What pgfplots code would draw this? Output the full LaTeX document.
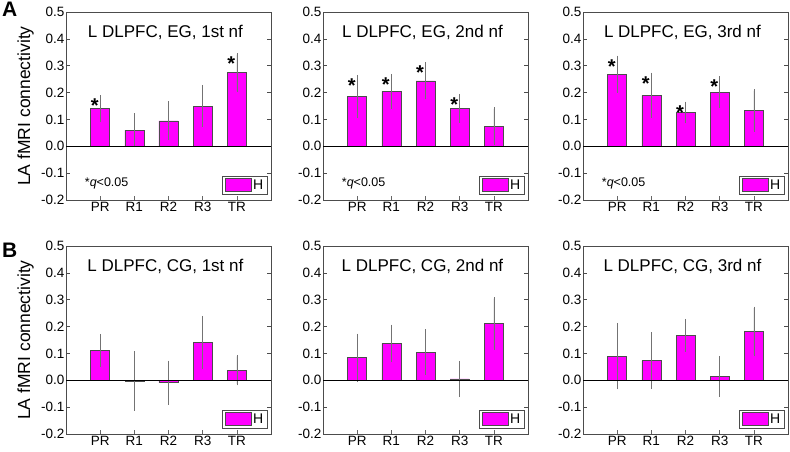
\documentclass[border=0pt]{standalone}
\usepackage{fontspec}
\setmainfont{Liberation Sans}
\usepackage{pgfplots}
\pgfplotsset{compat=1.18}
\usepackage{pgfplotstable}
\definecolor{mag}{RGB}{255,0,255}

\pgfplotstableread{
x y e
1 0.140 0.045
2 0.060 0.057
3 0.095 0.067
4 0.150 0.073
5 0.274 0.067
}\dataAa
\pgfplotstableread{
x y e
1 0.185 0.075
2 0.204 0.060
3 0.244 0.064
4 0.142 0.048
5 0.075 0.064
}\dataAb
\pgfplotstableread{
x y e
1 0.268 0.064
2 0.190 0.079
3 0.126 0.035
4 0.202 0.054
5 0.133 0.074
}\dataAc
\pgfplotstableread{
x y e
1 0.111 0.056
2 -0.002 0.105
3 -0.009 0.077
4 0.140 0.094
5 0.038 0.051
}\dataBa
\pgfplotstableread{
x y e
1 0.084 0.084
2 0.137 0.065
3 0.105 0.080
4 0.005 0.062
5 0.212 0.092
}\dataBb
\pgfplotstableread{
x y e
1 0.090 0.118
2 0.073 0.100
3 0.167 0.056
4 0.015 0.070
5 0.182 0.087
}\dataBc

\pgfplotsset{
  panel/.style={
    scale only axis, width=205pt, height=188pt, anchor=south west,
    xmin=0, xmax=6, ymin=-0.2, ymax=0.5,
    ytick={-0.2,-0.1,0,0.1,0.2,0.3,0.4,0.5},
    xtick={1,2,3,4,5}, xticklabels={PR,R1,R2,R3,TR},
    /pgf/number format/assume math mode=true,
    yticklabel style={/pgf/number format/fixed, /pgf/number format/fixed zerofill, /pgf/number format/precision=1, /tikz/inner sep=1.5pt},
    tick label style={font=\fontsize{13.5}{14}\selectfont},
    axis line style={black!70, line width=0.6pt},
    tick align=inside, major tick length=4pt,
    every tick/.style={black!70, line width=0.5pt},
    major x tick style={black!60, line width=0.4pt},
    xtick pos=bottom,
    x tick label style={yshift=1pt},
    legend style={at={(0.985,0.03)}, anchor=south east, draw=black!70,
      line width=0.5pt, inner xsep=3pt, inner ysep=2pt,
      font=\fontsize{14}{14}\selectfont, nodes={inner sep=1.5pt}},
  },
  bars/.style={ybar, bar width=19pt, fill=mag, draw=black!70, line width=0.5pt,
    legend image code/.code={\draw[fill=mag, draw=black!70, line width=0.5pt] (0pt,-6pt) rectangle (26pt,6.5pt);},
    error bars/.cd, y dir=both, y explicit,
    error bar style={black!55, line width=0.5pt},
    error mark options={black!55, mark size=1.5pt, line width=0.5pt}},
  zeroline/.style={black, line width=1pt, forget plot},
}
\newcommand{\ttl}[1]{\node[anchor=base, font=\fontsize{17}{17}\selectfont] at (rel axis cs:0.485,0.867) {#1};}
\newcommand{\qnote}{\node[anchor=west, font=\fontsize{12.5}{13}\selectfont] at (rel axis cs:0.075,0.09) {*\textit{q}<0.05};}
\newcommand{\st}[2]{\node[anchor=north, inner sep=0pt, font=\fontsize{20}{20}\selectfont\bfseries] at (axis cs:#1-0.16,#2-0.008) {*};}

\begin{document}
\begin{tikzpicture}
\useasboundingbox (0pt,0pt) rectangle (790pt,451pt);
% Row A
\begin{axis}[panel, at={(66pt,251pt)}]
\addplot[bars] table[x=x,y=y,y error=e]{\dataAa};
\addlegendentry{H}
\addplot[zeroline] coordinates {(0,0) (6,0)};
\ttl{L DLPFC, EG, 1st nf}
\qnote
\st{1}{0.185}
\st{5}{0.341}
\end{axis}
\begin{axis}[panel, at={(323pt,251pt)}]
\addplot[bars] table[x=x,y=y,y error=e]{\dataAb};
\addlegendentry{H}
\addplot[zeroline] coordinates {(0,0) (6,0)};
\ttl{L DLPFC, EG, 2nd nf}
\qnote
\st{1}{0.260}
\st{2}{0.264}
\st{3}{0.308}
\st{4}{0.190}
\end{axis}
\begin{axis}[panel, at={(583pt,251pt)}]
\addplot[bars] table[x=x,y=y,y error=e]{\dataAc};
\addlegendentry{H}
\addplot[zeroline] coordinates {(0,0) (6,0)};
\ttl{L DLPFC, EG, 3rd nf}
\qnote
\st{1}{0.332}
\st{2}{0.269}
\st{3}{0.161}
\st{4}{0.256}
\end{axis}
% Row B
\begin{axis}[panel, at={(66pt,17pt)}]
\addplot[bars] table[x=x,y=y,y error=e]{\dataBa};
\addlegendentry{H}
\addplot[zeroline] coordinates {(0,0) (6,0)};
\ttl{L DLPFC, CG, 1st nf}
\end{axis}
\begin{axis}[panel, at={(323pt,17pt)}]
\addplot[bars] table[x=x,y=y,y error=e]{\dataBb};
\addlegendentry{H}
\addplot[zeroline] coordinates {(0,0) (6,0)};
\ttl{L DLPFC, CG, 2nd nf}
\end{axis}
\begin{axis}[panel, at={(583pt,17pt)}]
\addplot[bars] table[x=x,y=y,y error=e]{\dataBc};
\addlegendentry{H}
\addplot[zeroline] coordinates {(0,0) (6,0)};
\ttl{L DLPFC, CG, 3rd nf}
\end{axis}
% y labels and panel letters
\node[rotate=90, anchor=base, font=\fontsize{17.5}{18}\selectfont] at (30pt,345pt) {LA fMRI connectivity};
\node[rotate=90, anchor=base, font=\fontsize{17.5}{18}\selectfont] at (30pt,111pt) {LA fMRI connectivity};
\node[anchor=base west, inner sep=0pt, font=\fontsize{21}{21}\selectfont\bfseries] at (2pt,434pt) {A};
\node[anchor=base west, inner sep=0pt, font=\fontsize{21}{21}\selectfont\bfseries] at (2pt,194pt) {B};
\end{tikzpicture}
\end{document}
